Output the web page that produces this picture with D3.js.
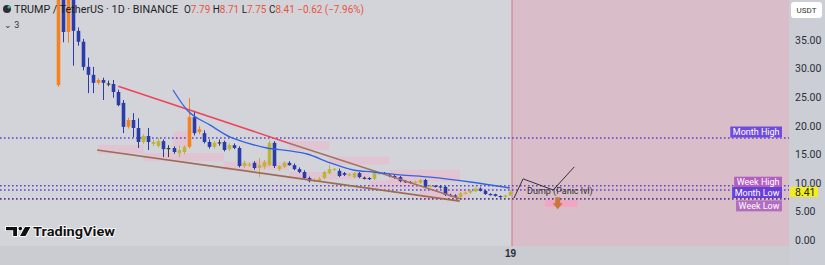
<!DOCTYPE html>
<html>
<head>
<meta charset="utf-8">
<script src="https://cdn.jsdelivr.net/npm/d3@7"></script>
<style>
  html, body { margin: 0; padding: 0; background: #d2d4da; }
  svg { display: block; font-family: Roboto, "Open Sans", sans-serif; }
</style>
</head>
<body>
<svg id="chart" width="825" height="265"></svg>
<script>
// daily candles, day 0 = listing day, day 90 = the "19" tick. [open, high, low, close]
var candles = [
  [27.1, 48, 26.8, 45], [45, 47, 34.6, 36.4], [36.4, 46, 34.5, 44], [44, 45, 30.5, 36.6],
  [36.6, 37.2, 34.0, 34.7], [34.7, 35.2, 29.7, 30.3], [30.3, 31.9, 25.7, 28.9], [28.9, 30.3, 25.7, 27.5],
  [27.5, 28.3, 27.2, 28.0], [28.0, 28.4, 24.5, 27.5], [27.4, 27.9, 26.9, 27.3], [27.3, 28.0, 24.9, 25.9],
  [25.9, 26.3, 23.4, 23.6], [24.0, 24.5, 18.7, 19.8], [19.8, 21.4, 19.5, 21.0], [21.0, 22.2, 18.0, 19.6],
  [19.6, 21.3, 16.1, 17.15], [17.15, 18.5, 16.8, 18.2], [18.2, 19.6, 15.75, 17.15], [16.8, 17.6, 16.4, 17.15],
  [16.45, 17.8, 16.2, 17.3], [17.3, 17.6, 14.5, 15.9], [16.1, 16.6, 14.5, 16.05], [16.1, 16.4, 15.1, 15.4],
  [15.2, 16.5, 14.5, 15.75], [15.4, 16.6, 15.0, 16.3], [16.3, 24.85, 16.0, 21.5], [21.5, 22.6, 18.3, 18.7],
  [18.9, 19.9, 18.5, 19.4], [18.7, 19.2, 16.9, 17.15], [17.15, 17.6, 16.0, 16.3], [16.3, 17.3, 16.0, 17.0],
  [17.0, 17.6, 16.5, 17.1], [17.15, 17.4, 15.5, 15.75], [15.9, 16.9, 15.6, 16.6], [16.6, 16.9, 15.9, 16.1],
  [16.1, 16.4, 12.7, 12.95], [12.95, 13.9, 12.6, 13.5], [13.1, 13.6, 12.8, 13.25], [13.5, 13.8, 12.3, 12.6],
  [12.6, 14.35, 11.0, 13.1], [12.8, 14.0, 12.4, 13.65], [13.1, 17.4, 12.9, 17.0], [17.0, 17.3, 12.6, 12.95],
  [12.4, 13.1, 12.1, 12.95], [12.8, 13.8, 12.6, 13.5], [13.5, 13.8, 13.0, 13.1], [13.1, 13.4, 12.2, 12.4],
  [12.4, 12.7, 11.7, 11.9], [11.9, 12.2, 10.6, 10.85], [10.85, 11.1, 10.1, 10.3], [10.3, 10.8, 10.1, 10.5],
  [10.4, 11.0, 10.2, 10.7], [10.85, 12.1, 10.6, 11.9], [11.7, 13.1, 11.5, 12.4], [12.3, 12.6, 12.0, 12.45],
  [12.1, 12.5, 11.0, 11.2], [11.7, 11.9, 11.2, 11.4], [11.3, 11.7, 11.1, 11.5], [11.0, 11.9, 10.8, 11.7],
  [11.7, 11.9, 10.8, 11.0], [10.9, 11.1, 10.6, 10.85], [10.85, 11.0, 10.5, 10.7], [10.7, 12.2, 10.5, 11.7],
  [11.6, 11.9, 11.4, 11.75], [11.75, 11.9, 11.4, 11.6], [11.4, 11.6, 11.0, 11.2], [11.2, 11.4, 10.7, 10.85],
  [11.0, 11.2, 10.1, 10.3], [10.3, 10.5, 10.0, 10.15], [10.15, 10.3, 9.9, 10.1], [10.1, 10.4, 9.9, 10.2],
  [10.0, 10.7, 9.8, 10.5], [10.5, 10.7, 9.1, 9.3], [9.35, 9.7, 9.2, 9.5], [9.5, 9.6, 9.2, 9.35],
  [9.4, 9.6, 9.0, 9.2], [9.3, 9.5, 7.7, 7.9], [7.9, 8.1, 7.6, 7.8], [7.8, 8.0, 7.5, 7.7],
  [7.5, 8.4, 7.4, 8.2], [8.2, 8.5, 8.0, 8.3], [8.3, 8.8, 8.1, 8.6], [8.5, 9.2, 8.4, 9.0],
  [9.0, 9.2, 8.5, 8.6], [8.6, 8.8, 7.9, 8.05], [8.05, 8.2, 7.8, 8.0], [8.0, 8.1, 7.6, 7.7],
  [7.7, 7.8, 7.4, 7.55], [7.55, 7.9, 7.4, 7.8], [7.79, 8.71, 7.75, 8.41]
];
var orangeDays = [0, 2, 8, 14, 26, 28];   // up candles drawn orange, the rest olive
var dojiDays = [10, 22, 32, 61];

// ma line and trend lines, [day, price]
var maLine = [[22.9, 26.25], [25.7, 22.75], [30.3, 20.1], [34.3, 18.0], [37.6, 17.0], [41.6, 16.1],
  [46.2, 15.6], [49.6, 15.05], [54.2, 13.5], [58.8, 12.25], [62.7, 11.9], [68.1, 11.4],
  [74.1, 11.0], [82.1, 10.15], [90, 9.1]];
var upperRed = [[12, 26.9], [46, 16.95]];
var upperBrown = [[46, 16.95], [80, 7.2]];
var lowerBrown = [[7.8, 15.75], [80, 6.8]];

// pink highlight boxes: [day from, day to, price top, price bottom]
var highlights = [
  [8, 17, 16.6, 15.1], [17, 33, 15.2, 13.8], [33, 46, 13.7, 12.2], [46, 62, 11.9, 10.6],
  [62, 72, 10.4, 9.0], [72, 82, 9.0, 7.0], [23, 26, 19.0, 16.3], [39, 42, 14.0, 12.6],
  [46, 54, 17.3, 15.8], [54, 66, 14.6, 13.2], [66, 80, 12.3, 10.2]
];

var levelNames = ['Month High', 'Week High', 'Month Low', 'Week Low'];
var levelPrices = [17.85, 9.5, 8.75, 7.2];
var levelFills = ['#6f4be0', '#b35fc0', '#6840d8', '#b26dc2'];
var levelLines = ['#5a44d0', '#6a44b8', '#5a44d0', '#5a3a8a'];
var levelShift = [-6, -3.5, 2.5, 7];

var yTicks = [0, 5, 10, 15, 20, 25, 30, 35];
var xTickDays = [90];
var xTickLabels = ['19'];

var zoneStartDay = 90.4;
var dumpPath = [[90.8, 7.35], [92.6, 10.7], [98.6, 8.75], [102.8, 12.8]];
var lastPrice = 8.41;

var svg = d3.select('#chart');
var W = 825, H = 265, plotRight = 789, plotBottom = 246;

var x = d3.scaleLinear().domain([0, 90]).range([58, 510]);
var y = d3.scaleLinear().domain([0, 35]).range([240, 40]);

// backgrounds
svg.append('rect').attr('width', W).attr('height', H).attr('fill', '#d2d4da');
svg.append('rect').attr('x', 0).attr('y', plotBottom).attr('width', plotRight).attr('height', H - plotBottom).attr('fill', '#caccd2');
svg.append('rect').attr('x', plotRight).attr('y', 0).attr('width', W - plotRight).attr('height', H).attr('fill', '#cbced4');

svg.append('clipPath').attr('id', 'plotClip')
  .append('rect').attr('width', plotRight).attr('height', plotBottom);
var plot = svg.append('g').attr('clip-path', 'url(#plotClip)');

// future zone
plot.append('rect')
  .attr('x', x(zoneStartDay)).attr('y', 0)
  .attr('width', plotRight - x(zoneStartDay)).attr('height', plotBottom)
  .attr('fill', '#d9bdc8');
plot.append('line')
  .attr('x1', x(zoneStartDay)).attr('x2', x(zoneStartDay))
  .attr('y1', 0).attr('y2', plotBottom)
  .attr('stroke', '#e0707f').attr('stroke-width', 1);

// highlight boxes
plot.selectAll('rect.hl').data(highlights).enter().append('rect')
  .attr('class', 'hl')
  .attr('x', function(d) { return x(d[0]); })
  .attr('width', function(d) { return x(d[1]) - x(d[0]); })
  .attr('y', function(d) { return y(d[2]); })
  .attr('height', function(d) { return y(d[3]) - y(d[2]); })
  .attr('fill', '#f0b4ca').attr('opacity', 0.5);

// level lines
levelPrices.forEach(function(p, i) {
  plot.append('line')
    .attr('x1', 0).attr('x2', plotRight)
    .attr('y1', y(p)).attr('y2', y(p))
    .attr('stroke', levelLines[i]).attr('stroke-width', 1.6)
    .attr('stroke-dasharray', '1.6,2.4');
});

// candles
var bodyW = 3.6;
var upColor = function(i) { return orangeDays.indexOf(i) >= 0 ? '#f5821f' : '#bcb53a'; };
var downColor = '#2b3ca8';
var candle = plot.selectAll('g.candle').data(candles).enter().append('g').attr('class', 'candle');
candle.each(function(d, i) {
  var g = d3.select(this);
  var col = dojiDays.indexOf(i) >= 0 ? '#3a3a44' : (d[3] >= d[0] ? upColor(i) : downColor);
  var cx = Math.round(x(i)) + 0.5;
  g.append('line')
    .attr('x1', cx).attr('x2', cx)
    .attr('y1', y(d[1])).attr('y2', y(d[2]))
    .attr('stroke', col).attr('stroke-width', 1);
  var top = y(Math.max(d[0], d[3])), bot = y(Math.min(d[0], d[3]));
  g.append('rect')
    .attr('x', cx - bodyW / 2).attr('width', bodyW)
    .attr('y', top).attr('height', Math.max(1.2, bot - top))
    .attr('fill', col);
});

// trend lines + ma
var line = d3.line().x(function(d) { return x(d[0]); }).y(function(d) { return y(d[1]); });
plot.append('path').attr('d', line(lowerBrown)).attr('fill', 'none').attr('stroke', '#a06a55').attr('stroke-width', 1.6);
plot.append('path').attr('d', line(upperBrown)).attr('fill', 'none').attr('stroke', '#a87260').attr('stroke-width', 1.6);
plot.append('path').attr('d', line(upperRed)).attr('fill', 'none').attr('stroke', '#f0445a').attr('stroke-width', 1.6);
plot.append('path').attr('d', line.curve(d3.curveMonotoneX)(maLine)).attr('fill', 'none').attr('stroke', '#3563e0').attr('stroke-width', 1.3);
line.curve(d3.curveLinear);

// dump projection
plot.append('rect')
  .attr('x', x(97)).attr('width', x(103.4) - x(97))
  .attr('y', y(7.0)).attr('height', y(5.8) - y(7.0))
  .attr('fill', '#f0a6c0');
plot.append('path').attr('d', line(dumpPath)).attr('fill', 'none').attr('stroke', '#222').attr('stroke-width', 0.9);
plot.append('text')
  .attr('x', x(93.4)).attr('y', y(8.65)).attr('dy', '0.35em')
  .attr('font-size', 9).attr('fill', '#333')
  .text('Dump (Panic lvl)');
var ax = x(99.5), aTop = y(7.5), aBot = y(5.4);
plot.append('path')
  .attr('d', 'M' + (ax - 2.5) + ',' + aTop + 'H' + (ax + 2.5) + 'V' + (aTop + 6) + 'H' + (ax + 5) +
        'L' + ax + ',' + aBot + 'L' + (ax - 5) + ',' + (aTop + 6) + 'H' + (ax - 2.5) + 'Z')
  .attr('fill', '#c87838');

// level labels
levelNames.forEach(function(name, i) {
  var cy = y(levelPrices[i]) + levelShift[i];
  var t = svg.append('text')
    .attr('x', 760).attr('y', cy).attr('dy', '0.35em')
    .attr('text-anchor', 'middle').attr('font-size', 9).attr('fill', '#fff')
    .text(name);
  var w = t.node().getComputedTextLength() + 5;
  svg.insert('rect', function() { return t.node(); })
    .attr('x', 782 - w).attr('y', cy - 5.5).attr('width', w).attr('height', 11)
    .attr('fill', levelFills[i]);
  t.attr('x', 782 - w / 2);
});

// price axis
var yAxis = d3.axisRight(y).tickValues(yTicks).tickSize(0).tickPadding(6).tickFormat(d3.format('.2f'));
var yg = svg.append('g').attr('transform', 'translate(' + plotRight + ',0)').call(yAxis);
yg.select('.domain').remove();
yg.selectAll('text').attr('font-size', 10.5).attr('fill', '#2a2e39').attr('font-family', 'Roboto, sans-serif');

svg.append('rect').attr('x', 790).attr('y', y(lastPrice) - 5).attr('width', 28).attr('height', 10).attr('fill', '#f2ee1c');
svg.append('text').attr('x', 795).attr('y', y(lastPrice)).attr('dy', '0.35em')
  .attr('font-size', 10.5).attr('fill', '#222').text(d3.format('.2f')(lastPrice));

svg.append('rect').attr('x', 791).attr('y', 2).attr('width', 31).attr('height', 16).attr('rx', 3).attr('fill', '#fff');
svg.append('text').attr('x', 806.5).attr('y', 10).attr('dy', '0.35em').attr('text-anchor', 'middle')
  .attr('font-size', 8).attr('fill', '#333').text('USDT');

// time axis
var xAxis = d3.axisBottom(x).tickValues(xTickDays).tickSize(0).tickPadding(4)
  .tickFormat(function(d, i) { return xTickLabels[i]; });
var xg = svg.append('g').attr('transform', 'translate(0,' + plotBottom + ')').call(xAxis);
xg.select('.domain').remove();
xg.selectAll('text').attr('font-size', 10).attr('font-weight', 'bold').attr('fill', '#2a2e39');

// header
svg.append('circle').attr('cx', 7).attr('cy', 9).attr('r', 4).attr('fill', '#2d2d33');
svg.append('circle').attr('cx', 9).attr('cy', 7).attr('r', 1.6).attr('fill', '#2fb9a8');
svg.append('text').attr('x', 14).attr('y', 13).attr('font-size', 11).attr('fill', '#1e1e24')
  .attr('textLength', 164).attr('lengthAdjust', 'spacingAndGlyphs')
  .text('TRUMP / TetherUS · 1D · BINANCE');
var ohlc = svg.append('text').attr('x', 184).attr('y', 13).attr('font-size', 10)
  .attr('textLength', 180).attr('lengthAdjust', 'spacingAndGlyphs');
[['O', '#1e1e24'], ['7.79', '#e8553a'], [' H', '#1e1e24'], ['8.71', '#e8553a'],
 [' L', '#1e1e24'], ['7.75', '#e8553a'], [' C', '#1e1e24'], ['8.41', '#e8553a'],
 [' −0.62 (−7.96%)', '#e8553a']].forEach(function(s) {
  ohlc.append('tspan').attr('fill', s[1]).text(s[0]);
});
svg.append('text').attr('x', 4).attr('y', 28).attr('font-size', 9).attr('fill', '#333').text('⌄ 3');

// logo
var logo = svg.append('g').attr('stroke', '#fff').attr('stroke-width', 1.5).attr('paint-order', 'stroke');
logo.append('path').attr('d', 'M6,227H17V236H13.2V230.3H6Z').attr('fill', '#111');
logo.append('circle').attr('cx', 20.3).attr('cy', 228.6).attr('r', 1.8).attr('fill', '#111');
logo.append('path').attr('d', 'M25,227H30.5L25.5,236H20Z').attr('fill', '#111');
svg.append('text').attr('x', 33).attr('y', 235.5).attr('font-size', 12.5).attr('font-weight', 'bold')
  .attr('fill', '#111').attr('stroke', '#fff').attr('stroke-width', 1.5).attr('paint-order', 'stroke')
  .attr('textLength', 82).attr('lengthAdjust', 'spacingAndGlyphs')
  .text('TradingView');
</script>
</body>
</html>
